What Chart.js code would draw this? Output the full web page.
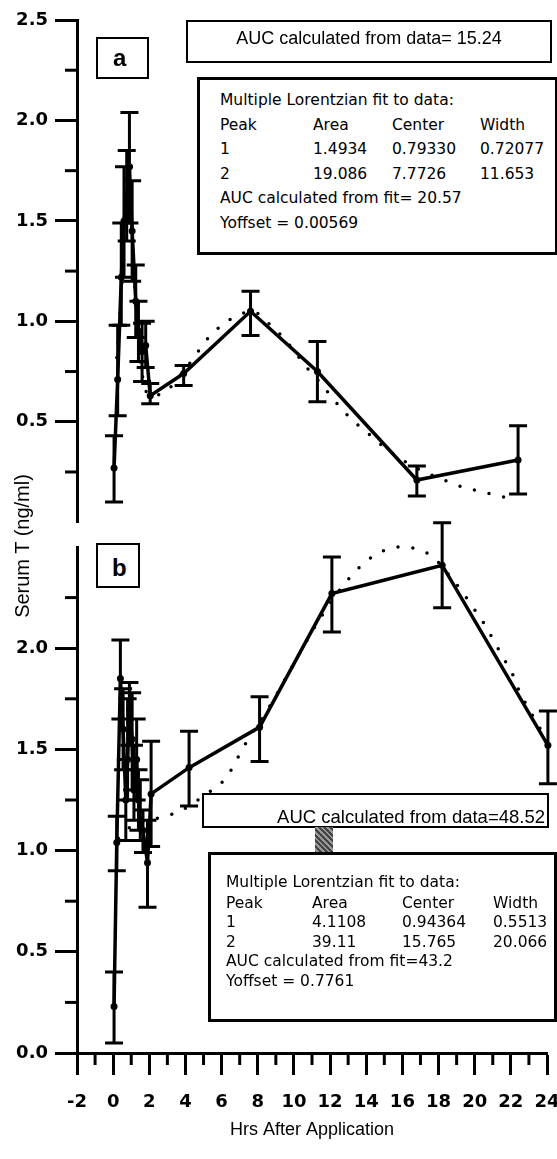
<!DOCTYPE html>
<html>
<head>
<meta charset="utf-8">
<script src="https://cdn.jsdelivr.net/npm/chart.js@4.4.1/dist/chart.umd.min.js"></script>
<style>
  html, body { margin:0; padding:0; background:#fff; }
  #wrap { position:relative; width:557px; height:1159px; overflow:hidden; color:#000;
          font-family:"Liberation Sans", Arial, sans-serif; }
  canvas { position:absolute; left:0; }
  #cA { top:0; }
  #cB { top:500px; }
  .box { position:absolute; box-sizing:border-box; border:2.5px solid #000; background:#fff; }
  .t { position:absolute; white-space:nowrap; line-height:18px; font-family:"DejaVu Sans", sans-serif; font-size:15.5px; }
  .auc { position:absolute; white-space:nowrap; line-height:20px; font-size:18px; }
  .lbl { position:absolute; line-height:24px; font-size:24px; font-weight:bold; }
  #ytitle { position:absolute; left:-78px; top:534px; width:200px; line-height:24px; text-align:center;
            font-size:20px; transform:rotate(-90deg); white-space:nowrap; }
  #hatch { position:absolute; left:315px; top:827px; width:18px; height:26px;
           background:repeating-linear-gradient(45deg,#444 0 2px,#999 2px 4px); }
</style>
</head>
<body>
<div id="wrap">
  <canvas id="cA" width="557" height="540"></canvas>
  <canvas id="cB" width="557" height="659"></canvas>

  <!-- panel a annotations -->
  <div class="box" style="left:96px;top:37px;width:53px;height:42px;"></div>
  <div class="lbl" style="left:113px;top:46px;">a</div>
  <div class="box" style="left:186px;top:20px;width:366px;height:43px;border-width:2px;"></div>
  <div class="auc" style="left:186px;top:28px;width:366px;text-align:center;">AUC calculated from data= 15.24</div>
  <div class="box" style="left:197px;top:77px;width:361px;height:178px;border-width:3px;"></div>
  <div class="t" style="left:220px;top:91px;">Multiple Lorentzian fit to data:</div>
  <div class="t" style="left:220px;top:116px;">Peak</div>
  <div class="t" style="left:313px;top:116px;">Area</div>
  <div class="t" style="left:392px;top:116px;">Center</div>
  <div class="t" style="left:480px;top:116px;">Width</div>
  <div class="t" style="left:220px;top:140px;">1</div>
  <div class="t" style="left:313px;top:140px;">1.4934</div>
  <div class="t" style="left:392px;top:140px;">0.79330</div>
  <div class="t" style="left:480px;top:140px;">0.72077</div>
  <div class="t" style="left:220px;top:165px;">2</div>
  <div class="t" style="left:313px;top:165px;">19.086</div>
  <div class="t" style="left:392px;top:165px;">7.7726</div>
  <div class="t" style="left:480px;top:165px;">11.653</div>
  <div class="t" style="left:220px;top:189px;">AUC calculated from fit= 20.57</div>
  <div class="t" style="left:220px;top:214px;">Yoffset = 0.00569</div>

  <!-- panel b annotations -->
  <div class="box" style="left:96px;top:543px;width:44px;height:45px;"></div>
  <div class="lbl" style="left:112px;top:556px;">b</div>
  <div class="box" style="left:202px;top:793px;width:347px;height:35px;border-width:2px;"></div>
  <div class="auc" style="right:12px;top:807px;font-size:18.5px;">AUC calculated from data=48.52</div>
  <div id="hatch"></div>
  <div class="box" style="left:208px;top:852px;width:349px;height:170px;border-width:3px;"></div>
  <div class="t" style="left:226px;top:873px;">Multiple Lorentzian fit to data:</div>
  <div class="t" style="left:226px;top:894px;">Peak</div>
  <div class="t" style="left:312px;top:894px;">Area</div>
  <div class="t" style="left:402px;top:894px;">Center</div>
  <div class="t" style="left:493px;top:894px;">Width</div>
  <div class="t" style="left:226px;top:913px;">1</div>
  <div class="t" style="left:312px;top:913px;">4.1108</div>
  <div class="t" style="left:402px;top:913px;">0.94364</div>
  <div class="t" style="left:493px;top:913px;">0.5513</div>
  <div class="t" style="left:226px;top:933px;">2</div>
  <div class="t" style="left:312px;top:933px;">39.11</div>
  <div class="t" style="left:402px;top:933px;">15.765</div>
  <div class="t" style="left:493px;top:933px;">20.066</div>
  <div class="t" style="left:226px;top:952px;">AUC calculated from fit=43.2</div>
  <div class="t" style="left:226px;top:972px;">Yoffset = 0.7761</div>

  <div id="ytitle">Serum T (ng/ml)</div>
</div>

<script>
/* ---------- DATA ---------- */
// panel a : measured means, error-bar ends
const hrsA   = [0.05, 0.25, 0.45, 0.6, 0.75, 0.9, 1.05, 1.25, 1.4, 1.6, 1.8, 2.05, 3.9, 7.6, 11.3, 16.8, 22.4];
const serumA = [0.27, 0.71, 1.22, 1.50, 1.62, 1.77, 1.45, 1.10, 0.95, 0.85, 0.88, 0.63, 0.74, 1.05, 0.75, 0.21, 0.31];
const loA    = [0.10, 0.53, 0.98, 1.22, 1.40, 1.49, 1.20, 0.92, 0.80, 0.70, 0.77, 0.59, 0.68, 0.93, 0.60, 0.13, 0.14];
const hiA    = [0.43, 0.98, 1.49, 1.77, 1.85, 2.04, 1.70, 1.28, 1.10, 0.99, 1.00, 0.69, 0.78, 1.15, 0.90, 0.28, 0.48];
// panel a : dotted Lorentzian fit
const fitHrsA = [0.2, 0.35, 0.55, 0.8, 1.05, 1.3, 1.6, 2.0, 2.9, 3.7, 4.4, 5.1, 6.0, 6.9, 7.7, 8.6,
                 9.5, 10.2, 10.8, 11.5, 12.2, 13.1, 14.0, 14.9, 16.0, 17.0, 18.6, 19.5, 20.5, 21.3, 22.4];
const fitA    = [0.82, 1.00, 1.30, 1.74, 1.42, 1.00, 0.74, 0.63, 0.65, 0.73, 0.81, 0.90, 0.98, 1.03, 1.05, 0.99,
                 0.91, 0.83, 0.76, 0.69, 0.61, 0.52, 0.45, 0.38, 0.31, 0.26, 0.20, 0.17, 0.15, 0.13, 0.12];

// panel b
const hrsB   = [0.05, 0.2, 0.4, 0.55, 0.7, 0.8, 0.9, 1.05, 1.15, 1.3, 1.4, 1.5, 1.65, 1.9, 2.1, 4.2, 8.1, 12.1, 18.2, 24.05];
const serumB = [0.23, 1.04, 1.85, 1.60, 1.25, 1.45, 1.70, 1.55, 1.30, 1.45, 1.25, 1.15, 1.10, 0.94, 1.28, 1.41, 1.61, 2.27, 2.41, 1.52];
const loB    = [0.05, 0.90, 1.65, 1.40, 1.05, 1.25, 1.52, 1.30, 1.15, 1.25, 1.10, 1.05, 0.99, 0.72, 1.02, 1.22, 1.44, 2.08, 2.20, 1.33];
const hiB    = [0.40, 1.17, 2.04, 1.80, 1.45, 1.75, 1.83, 1.78, 1.52, 1.65, 1.40, 1.35, 1.20, 1.15, 1.54, 1.59, 1.76, 2.45, 2.62, 1.69];
const fitHrsB = [0.3, 1.0, 2.0, 2.9, 3.8, 5.0, 6.25, 6.9, 7.4, 8.5, 9.1, 9.6, 10.1, 10.6, 11.4, 12.3, 13.1,
                 14.0, 14.9, 15.9, 16.8, 17.7, 18.5, 19.3, 20.0, 20.6, 21.1, 21.6, 22.1, 22.5, 23.0, 23.5, 24.0];
const fitB    = [1.06, 1.12, 1.15, 1.17, 1.20, 1.27, 1.36, 1.46, 1.54, 1.69, 1.78, 1.86, 1.94, 2.02, 2.14, 2.26, 2.35,
                 2.43, 2.48, 2.50, 2.49, 2.45, 2.37, 2.28, 2.19, 2.11, 2.03, 1.95, 1.87, 1.78, 1.70, 1.62, 1.55];

const X_MIN = -2, X_MAX = 24, Y_MIN = 0, Y_MAX = 2.5;
const CAP = 9;          // half width of error-bar caps (px)
const MINOR_LEN = 12;   // short tick length

const tickFont = { family: 'DejaVu Sans', size: 18, weight: 'bold' };

// ---------- plugins ----------
const errorBars = {
  id: 'errorBars',
  afterDatasetsDraw (chart) {
    const { ctx, scales: { x, y } } = chart;
    chart.data.datasets.forEach(ds => {
      if (!ds.errLo) return;
      ctx.save();
      ctx.strokeStyle = '#000';
      ctx.lineWidth = 3;
      ds.data.forEach((p, i) => {
        const px = x.getPixelForValue(p.x);
        const lo = y.getPixelForValue(ds.errLo[i]);
        const hi = y.getPixelForValue(ds.errHi[i]);
        ctx.beginPath();
        ctx.moveTo(px, lo); ctx.lineTo(px, hi);
        ctx.moveTo(px - CAP, lo); ctx.lineTo(px + CAP, lo);
        ctx.moveTo(px - CAP, hi); ctx.lineTo(px + CAP, hi);
        ctx.stroke();
      });
      ctx.restore();
    });
  }
};

const isMajorY = v => Math.abs(v % 0.5) < 1e-9;
const isMajorX = v => Math.abs(v % 2) < 1e-9;

// short ticks between the labelled ones
const minorTicks = {
  id: 'minorTicks',
  afterDraw (chart) {
    const { ctx } = chart;
    ctx.save();
    ctx.strokeStyle = '#000';
    ctx.lineWidth = 3;
    Object.values(chart.scales).forEach(s => {
      if (!s.options.display) return;
      s.ticks.forEach(t => {
        ctx.beginPath();
        if (s.axis === 'y' && !isMajorY(t.value)) {
          const py = s.getPixelForValue(t.value);
          ctx.moveTo(s.right - MINOR_LEN, py); ctx.lineTo(s.right, py);
        } else if (s.axis === 'x' && !isMajorX(t.value)) {
          const px = s.getPixelForValue(t.value);
          ctx.moveTo(px, s.top); ctx.lineTo(px, s.top + MINOR_LEN);
        }
        ctx.stroke();
      });
    });
    ctx.restore();
  }
};

function toPts (xs, ys) { return xs.map((t, i) => ({ x: t, y: ys[i] })); }

function datasets (hrs, serum, lo, hi, fitHrs, fit) {
  return [
    { data: toPts(hrs, serum), errLo: lo, errHi: hi,
      borderColor: '#000', backgroundColor: '#000', borderWidth: 3.5,
      pointRadius: 3.5, pointBorderWidth: 0, clip: false },
    { data: toPts(fitHrs, fit),
      borderColor: '#000', borderWidth: 3.5, borderDash: [0, 15], borderCapStyle: 'round',
      cubicInterpolationMode: 'monotone', pointRadius: 0, clip: false }
  ];
}

function yScale (skipValue) {
  const shown = v => isMajorY(v) && Math.abs(v - skipValue) > 1e-9;
  return {
    type: 'linear', min: Y_MIN, max: Y_MAX,
    ticks: { stepSize: 0.25, padding: 7, color: '#000', font: tickFont, autoSkip: false,
             callback: v => shown(v) ? v.toFixed(1) : '' },
    grid: { drawOnChartArea: false, tickLength: 22, tickWidth: 3,
            tickColor: c => (c.tick && shown(c.tick.value)) ? '#000' : 'rgba(0,0,0,0)' },
    border: { color: '#000', width: 3 },
    afterFit: s => { s.width = 77; }
  };
}

// ---------- panel a ----------
new Chart(document.getElementById('cA'), {
  type: 'line',
  data: { datasets: datasets(hrsA, serumA, loA, hiA, fitHrsA, fitA) },
  options: {
    responsive: false, animation: false, devicePixelRatio: 1,
    layout: { padding: { top: 20, right: 10, bottom: 15, left: 0 } },
    plugins: { legend: { display: false }, tooltip: { enabled: false } },
    scales: {
      x: { type: 'linear', min: X_MIN, max: X_MAX, display: false },
      y: yScale(0)
    }
  },
  plugins: [errorBars, minorTicks]
});

// ---------- panel b ----------
new Chart(document.getElementById('cB'), {
  type: 'line',
  data: { datasets: datasets(hrsB, serumB, loB, hiB, fitHrsB, fitB) },
  options: {
    responsive: false, animation: false, devicePixelRatio: 1,
    layout: { padding: { top: 47, right: 10, bottom: 0, left: 0 } },
    plugins: { legend: { display: false }, tooltip: { enabled: false } },
    scales: {
      x: {
        type: 'linear', min: X_MIN, max: X_MAX,
        ticks: { stepSize: 1, autoSkip: false, maxRotation: 0, padding: 17, color: '#000', font: tickFont,
                 callback: v => isMajorX(v) ? String(v) : '' },
        grid: { drawOnChartArea: false, tickLength: 22, tickWidth: 3,
                tickColor: c => (c.tick && isMajorX(c.tick.value)) ? '#000' : 'rgba(0,0,0,0)' },
        border: { color: '#000', width: 3 },
        title: { display: true, text: 'Hrs After Application', color: '#000',
                 font: { family: 'Liberation Sans', size: 18 }, padding: { top: 0, bottom: 18 } },
        afterFit: s => { s.height = 106; s.paddingLeft = 0; s.paddingRight = 0; }
      },
      y: yScale(2.5)
    }
  },
  plugins: [errorBars, minorTicks]
});
</script>
</body>
</html>
